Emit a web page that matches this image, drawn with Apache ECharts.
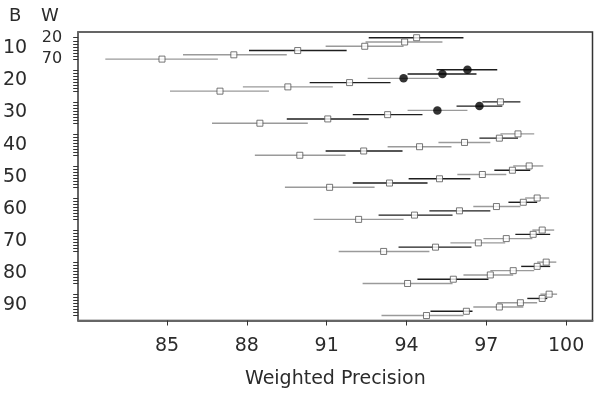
<!DOCTYPE html>
<html><head><meta charset="utf-8">
<script src="https://cdn.jsdelivr.net/npm/echarts@6/dist/echarts.min.js"></script>
<style>html,body{margin:0;padding:0;background:#fff}#c{width:595px;height:394px}</style>
</head><body><div id="c"></div>
<script>
const B = [10, 20, 30, 40, 50, 60, 70, 80, 90];
const W = [20, 30, 40, 50, 60, 70];
const wTickLabels = ['20', '70'];
const xTicks = [85, 88, 91, 94, 97, 100];
// each row: [lower, estimate, upper] for W = 20 .. 70
const B10 = [[92.58, 94.38, 96.14], [92.46, 93.93, 95.35], [90.96, 92.43, 93.89], [88.08, 89.91, 91.75], [85.6, 87.51, 89.5], [82.68, 84.81, 86.91]];
const B20 = [[95.13, 96.29, 97.41], [94.04, 95.35, 96.63], [92.54, 93.89, 95.2], [90.36, 91.86, 93.4], [87.85, 89.54, 91.23], [85.11, 86.99, 88.83]];
const B30 = [[96.85, 97.53, 98.28], [95.88, 96.74, 97.6], [94.04, 95.16, 96.29], [91.98, 93.29, 94.6], [89.5, 91.04, 92.58], [86.69, 88.49, 90.29]];
const B40 = [[97.53, 98.19, 98.8], [96.74, 97.49, 98.19], [95.2, 96.18, 97.15], [93.29, 94.49, 95.69], [90.96, 92.39, 93.85], [88.3, 89.99, 91.71]];
const B50 = [[98.01, 98.61, 99.14], [97.3, 97.98, 98.65], [95.91, 96.85, 97.75], [94.08, 95.24, 96.4], [91.98, 93.36, 94.79], [89.43, 91.11, 92.8]];
const B60 = [[98.46, 98.91, 99.36], [97.83, 98.39, 98.91], [96.51, 97.38, 98.28], [94.86, 95.99, 97.15], [92.95, 94.3, 95.73], [90.51, 92.2, 93.89]];
const B70 = [[98.73, 99.1, 99.55], [98.09, 98.76, 99.4], [96.89, 97.75, 98.73], [95.65, 96.7, 97.71], [93.7, 95.09, 96.44], [91.45, 93.14, 94.86]];
const B80 = [[98.91, 99.25, 99.63], [98.31, 98.91, 99.4], [97.15, 98.01, 98.8], [96.14, 97.15, 98.01], [94.41, 95.76, 97.08], [92.35, 94.04, 95.73]];
const B90 = [[99.03, 99.36, 99.66], [98.54, 99.1, 99.29], [97.41, 98.28, 98.91], [96.51, 97.49, 98.39], [94.9, 96.25, 96.48], [93.06, 94.75, 96.14]];
// rows drawn with a dark interval, as [B, W]
const darkRows = [[10,20],[10,50],[20,20],[20,30],[20,50],[30,20],[30,30],[30,50],[30,60],[40,30],[40,60],[50,30],[50,50],[50,60],[60,30],[60,50],[60,60],[70,30],[70,60],[80,30],[80,60],[90,30],[90,60]];
// rows whose estimate is a filled point, as [B, W]
const filledRows = [[20,20],[20,30],[20,40],[30,30],[30,40]];

const groups = [B10, B20, B30, B40, B50, B60, B70, B80, B90];
const STEP = 7.5;
const pos = (bi, wi) => bi * STEP + wi;
const isIn = (list, b, w) => list.some(p => p[0] === b && p[1] === w);

const grayLines = [], darkLines = [], squares = [], dots = [];
groups.forEach((rows, bi) => {
  rows.forEach((r, wi) => {
    const b = B[bi], w = W[wi], y = pos(bi, wi);
    (isIn(darkRows, b, w) ? darkLines : grayLines).push([r[0], r[2], y]);
    (isIn(filledRows, b, w) ? dots : squares).push([r[1], y]);
  });
});

const yTicks = [];
B.forEach((b, bi) => { for (let k = 0; k < 8; k++) yTicks.push(bi * STEP + k * 5 / 7); });
const bLabelPos = B.map((b, bi) => bi * STEP + 2.5);

const FONT = 'DejaVu Sans';
const TXT = '#2b2b2b';
const segRender = color => (params, api) => {
  const y = api.value(2);
  const p1 = api.coord([api.value(0), y]);
  const p2 = api.coord([api.value(1), y]);
  return { type: 'line', shape: { x1: p1[0], y1: p1[1], x2: p2[0], y2: p2[1] },
           style: { stroke: color, lineWidth: 1.4 } };
};

const chart = echarts.init(document.getElementById('c'), null, { renderer: 'canvas' });
chart.setOption({
  animation: false,
  backgroundColor: '#fff',
  textStyle: { fontFamily: FONT },
  grid: { left: 77, right: 2.5, top: 32, bottom: 73.5, show: true, borderColor: '#333', borderWidth: 1.5, backgroundColor: 'transparent' },
  xAxis: {
    type: 'value', min: 81.66, max: 100.99,
    axisLine: { onZero: false, lineStyle: { color: '#666', width: 2 } },
    axisTick: { customValues: xTicks, length: 5, lineStyle: { color: '#333', width: 1 } },
    axisLabel: { customValues: xTicks, fontSize: 19, color: TXT, margin: 16, fontFamily: FONT },
    splitLine: { show: false },
    name: 'Weighted Precision', nameLocation: 'middle', nameGap: 49,
    nameTextStyle: { fontSize: 19, color: TXT, fontFamily: FONT }
  },
  yAxis: [{
    type: 'value', inverse: true, min: -1.34, max: 66.16,
    axisLine: { onZero: false, lineStyle: { color: '#666', width: 2 } },
    axisTick: { customValues: yTicks, length: 5, lineStyle: { color: '#333', width: 1 } },
    axisLabel: { customValues: bLabelPos, fontSize: 19, color: TXT, margin: 51, fontFamily: FONT,
      formatter: v => String(B[Math.round((v - 2.5) / STEP)]) },
    splitLine: { show: false }
  }, {
    type: 'value', inverse: true, min: -1.34, max: 66.16, position: 'left', offset: 0,
    axisLine: { show: false, onZero: false }, axisTick: { show: false }, splitLine: { show: false },
    axisLabel: { customValues: [0, W.length - 1], fontSize: 16, color: TXT, margin: 16, fontFamily: FONT,
      formatter: v => (v < 1 ? wTickLabels[0] : wTickLabels[1]) }
  }],
  graphic: [
    { type: 'text', left: 9, top: 7, style: { text: 'B', font: '18px "DejaVu Sans"', fill: TXT } },
    { type: 'text', left: 41, top: 7, style: { text: 'W', font: '18px "DejaVu Sans"', fill: TXT } }
  ],
  series: [
    { type: 'custom', renderItem: segRender('#9a9a9a'), data: grayLines, encode: { x: [0, 1], y: 2 }, z: 2 },
    { type: 'custom', renderItem: segRender('#1e1e1e'), data: darkLines, encode: { x: [0, 1], y: 2 }, z: 3 },
    { type: 'scatter', data: squares, symbol: 'rect', symbolSize: 6, z: 4,
      itemStyle: { color: '#fff', borderColor: '#555', borderWidth: 1 } },
    { type: 'scatter', data: dots, symbol: 'circle', symbolSize: 8.5, z: 5,
      itemStyle: { color: '#000' } }
  ]
});
</script></body></html>
